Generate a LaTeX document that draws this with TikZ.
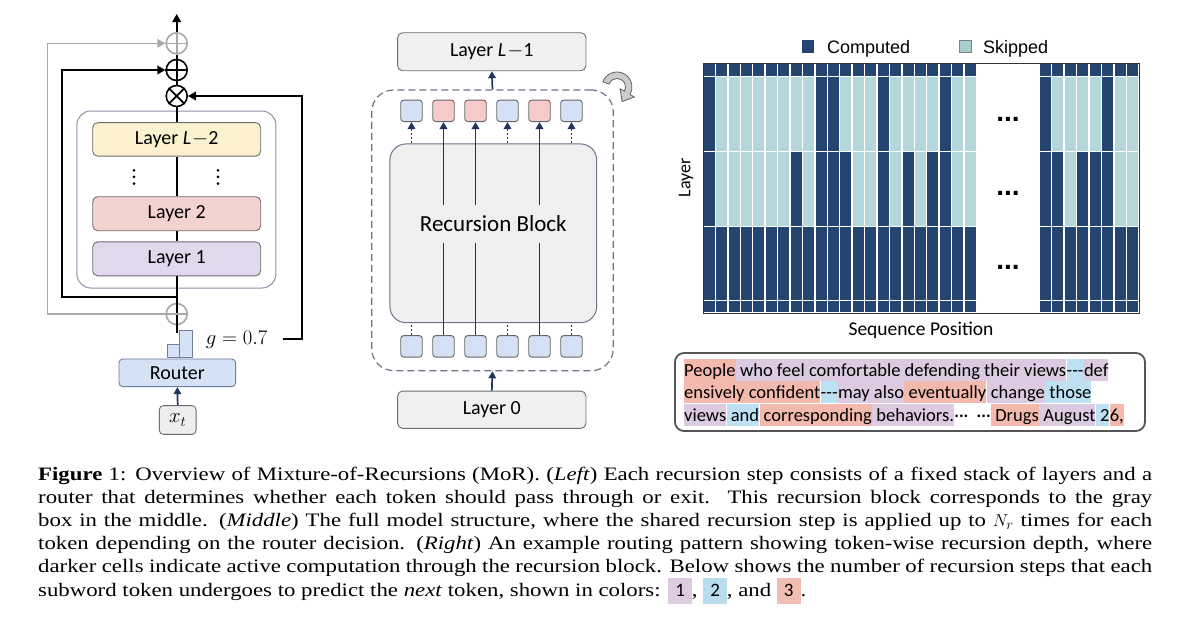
\documentclass[tikz,border=0pt]{standalone}
\usepackage{fontspec}
\setmainfont{Liberation Serif}[FakeStretch=1.2]
\newfontfamily\carl{Carlito}
\newfontfamily\arl{Liberation Sans}
\usetikzlibrary{arrows.meta,calc}
\definecolor{laygray}{HTML}{6E6E6E}
\definecolor{boxblue}{HTML}{8A93A8}
\definecolor{yel}{HTML}{FCF1CF}
\definecolor{pnk}{HTML}{F4D2CF}
\definecolor{pur}{HTML}{E2D8EC}
\definecolor{routerfill}{HTML}{D5E2F6}
\definecolor{routerborder}{HTML}{6F7E9C}
\definecolor{xgray}{HTML}{EEEEEE}
\definecolor{lgray}{HTML}{F0F0F2}
\definecolor{blkfill}{HTML}{EFEFEF}
\definecolor{blkborder}{HTML}{6B7589}
\definecolor{dashc}{HTML}{6C7487}
\definecolor{tb}{HTML}{D3E0F6}
\definecolor{tp}{HTML}{F4CBC8}
\definecolor{tokborder}{HTML}{666666}
\definecolor{navy}{HTML}{1F3560}
\definecolor{gray65}{HTML}{A8A8A8}
\definecolor{gc1}{HTML}{244570}
\definecolor{gc0}{HTML}{B3D7DB}
\definecolor{skipc}{HTML}{A9CCCF}
\definecolor{gridframe}{HTML}{333333}
\definecolor{tbc}{HTML}{555555}
\definecolor{hpk}{HTML}{F3B9AD}
\definecolor{hpu}{HTML}{DCCAE0}
\definecolor{hbl}{HTML}{BEE0F3}
\definecolor{cpu}{HTML}{DDCCE0}
\definecolor{cbl}{HTML}{B9DDEC}
\definecolor{cpk}{HTML}{F2BEB3}
\newcommand\capbox[2]{\smash{{\setlength{\fboxsep}{0pt}\colorbox{#1}{\rule[-8pt]{0pt}{26pt}\hspace{7pt}{\carl #2}\hspace{7pt}}}}}
\begin{document}
\begin{tikzpicture}[x=1pt,y=-1pt,
  lay/.style={draw=laygray, line width=0.9pt, rounded corners=5pt, inner sep=0pt, font=\carl\fontsize{20}{24}\selectfont},
  tok/.style={draw=tokborder, line width=0.9pt, rounded corners=3pt, minimum size=21.5pt, inner sep=0pt},
  blk/.style={line width=1.8pt, black},
  barr/.style={blk, -{Triangle[length=8pt,width=8.5pt]}},
  garr/.style={line width=1.4pt, gray65, -{Triangle[length=8pt,width=8.5pt]}},
  narr/.style={line width=1.7pt, navy, -{Triangle[length=7pt,width=7.5pt]}},
  ndot/.style={line width=1.5pt, navy, dash pattern=on 2pt off 2pt},
  opc/.style={circle, draw, line width=1.6pt, minimum size=21pt, inner sep=0pt},
  hl/.style={inner sep=0pt, text height=17.5pt, text depth=4.5pt, anchor=base west, font=\carl\fontsize{18.5}{22}\selectfont},
  lgtext/.style={anchor=base west, inner sep=0pt, font=\arl\fontsize{18}{20}\selectfont}
]
\useasboundingbox (0,0) rectangle (1200,630);
\fill[white] (0,0) rectangle (1200,630);

% ---------------- left panel ----------------
\node[draw=boxblue, line width=1pt, rounded corners=14pt, minimum width=199pt, minimum height=177pt] (stepbox) at (176.4,199.5) {};
\node[lay, fill=yel, minimum width=168pt, minimum height=33.5pt] (lL2) at (176.7,139.4) {Layer {\itshape L}\kern1pt$-$2};
\node[lay, fill=pnk, minimum width=168pt, minimum height=34pt] (l2) at (176.7,213.7) {Layer 2};
\node[lay, fill=pur, minimum width=168pt, minimum height=34pt] (l1) at (176.7,258.8) {Layer 1};
\foreach \xx in {134,218} \foreach \yy in {170.3,176.9,183.5} \fill (\xx,\yy) circle[radius=1.5pt];

\node[opc, draw=gray65] (gtop) at (176.7,43.3) {};
\node[opc] (plus) at (176.7,70) {};
\node[opc] (times) at (176.7,96) {};
\node[opc, draw=gray65] (gbot) at (176.7,314) {};
\coordinate (topend) at (176.7,14);
\coordinate (rin) at (176.7,333);
\coordinate (bj) at (176.7,297);

\draw[line width=1.6pt, gray65] (gtop.west) -- (gtop.east) (gtop.north) -- (gtop.south);
\draw[blk] (plus.west) -- (plus.east) (plus.north) -- (plus.south);
\draw[blk] (times.north west) -- (times.south east) (times.north east) -- (times.south west);
\draw[barr] (gtop.north) -- (topend);
\draw[blk] (plus.north) -- (gtop.south);
\draw[blk] (times.north) -- (plus.south);
\draw[blk] (lL2.north) -- (times.south);
\draw[blk] (lL2.south) -- (l2.north);
\draw[blk] (l2.south) -- (l1.north);
\draw[blk] (l1.south) -- (rin);
\draw[line width=1.6pt, gray65] (gbot.west) -- (gbot.east);

\draw[barr] (bj) -- (62.3,297) -- (62.3,70) -- (plus.west);
\draw[garr] (gbot.west) -- (47.3,314) -- (47.3,43.3) -- (gtop.west);

\node[font=\fontsize{20}{20}\selectfont, inner sep=0pt] (glab) at (236.7,340) {$g = 0.7$};
\coordinate (gs) at (283,339);
\draw[barr] (gs) -- (301.7,339) -- (301.7,96) -- (times.east);

\node[draw=routerborder, fill=routerfill, line width=0.9pt, minimum width=12pt, minimum height=13pt, inner sep=0pt, anchor=south west] (bar1) at (167.3,358) {};
\node[draw=routerborder, fill=routerfill, line width=0.9pt, minimum width=12.4pt, minimum height=27pt, inner sep=0pt, anchor=south west] (bar2) at (179.3,358) {};
\node[draw=routerborder, fill=routerfill, line width=0.9pt, rounded corners=4pt, minimum width=116.7pt, minimum height=27.7pt, inner sep=0pt, font=\carl\fontsize{20}{24}\selectfont] (router) at (177.3,372.8) {Router};
\node[draw=laygray, fill=xgray, line width=0.9pt, rounded corners=4pt, minimum width=36.7pt, minimum height=28.7pt, inner sep=0pt, font=\fontsize{20}{20}\selectfont] (xt) at (177.7,420) {$x_t$};
\draw[narr] (xt.north) -- (router.south);

% ---------------- middle panel ----------------
\node[lay, fill=lgray, minimum width=188.3pt, minimum height=38pt] (lL1) at (491.8,51.7) {Layer {\itshape L}\kern1pt$-$1};
\node[draw=dashc, dash pattern=on 7pt off 4pt, line width=1.2pt, rounded corners=22pt, minimum width=241.6pt, minimum height=280.7pt] (dbox) at (492.5,230.3) {};
\node[draw=blkborder, fill=blkfill, line width=1pt, rounded corners=16pt, minimum width=206.7pt, minimum height=178.7pt] (rblock) at (493.3,233.3) {};
\foreach \c/\x [count=\i] in {tb/411.5, tp/443.5, tp/475.5, tb/507.5, tp/539.5, tb/571.5} {
  \node[tok, fill=\c] (t\i) at (\x,110.8) {};
  \node[tok, fill=tb] (b\i) at (\x,346.3) {};
}
\foreach \i in {2,3,5} \draw[narr] (b\i.north) -- (t\i.south);
\node[fill=blkfill, inner xsep=1pt, inner ysep=0pt, minimum height=38pt, font=\carl\fontsize{23}{27}\selectfont] (rbtext) at (493.3,224) {Recursion Block};
\foreach \i in {1,4,6} {
  \draw[ndot, -{Triangle[length=7pt,width=7.5pt]}] (rblock.north -| t\i) -- (t\i.south);
  \draw[ndot] (b\i.north) -- (rblock.south -| b\i);
}
\draw[narr] (dbox.north) -- (lL1.south);
\node[lay, fill=lgray, minimum width=188.3pt, minimum height=37.3pt] (l0) at (491.8,409.7) {Layer 0};
\draw[narr] (l0.north) -- (dbox.south);

\coordinate (cc) at (617,87);
\filldraw[fill=gray!40, draw=gray!75!black, line width=0.8pt]
  ($(cc)+(-160:15)$) arc[start angle=-160, end angle=30, radius=15]
  -- ($(cc)+(30:20)$) -- ($(cc)+(30:11.75)+(120:10)$) -- ($(cc)+(30:3.5)$)
  -- ($(cc)+(30:8.5)$) arc[start angle=30, end angle=-160, radius=8.5] -- cycle;

% ---------------- right panel ----------------
\foreach \i in {1,...,22} {
  \fill[gc1] ({703+12.43*(\i-1)+0.7},63.7) rectangle ({703+12.43*\i-0.7},75.8);
  \fill[gc1] ({703+12.43*(\i-1)+0.7},227.2) rectangle ({703+12.43*\i-0.7},299.8);
  \fill[gc1] ({703+12.43*(\i-1)+0.7},301.2) rectangle ({703+12.43*\i-0.7},312.3);
}
\foreach \i in {1,...,8} {
  \fill[gc1] ({1039+12.5*(\i-1)+0.7},63.7) rectangle ({1039+12.5*\i-0.7},75.8);
  \fill[gc1] ({1039+12.5*(\i-1)+0.7},227.2) rectangle ({1039+12.5*\i-0.7},299.8);
  \fill[gc1] ({1039+12.5*(\i-1)+0.7},301.2) rectangle ({1039+12.5*\i-0.7},312.3);
}
\foreach \v [count=\i] in {1,0,0,0,0,0,0,0,0,1,1,0,0,0,1,0,0,0,0,1,0,0}
  \fill[gc\v] ({703+12.43*(\i-1)+0.7},77.2) rectangle ({703+12.43*\i-0.7},150.8);
\foreach \v [count=\i] in {1,0,0,0,0,0,0,1,0,1,1,1,0,0,1,0,1,0,1,1,0,0}
  \fill[gc\v] ({703+12.43*(\i-1)+0.7},152.2) rectangle ({703+12.43*\i-0.7},225.8);
\foreach \v [count=\i] in {1,0,0,0,0,1,0,0}
  \fill[gc\v] ({1039+12.5*(\i-1)+0.7},77.2) rectangle ({1039+12.5*\i-0.7},150.8);
\foreach \v [count=\i] in {1,1,0,1,1,1,0,0}
  \fill[gc\v] ({1039+12.5*(\i-1)+0.7},152.2) rectangle ({1039+12.5*\i-0.7},225.8);
\draw[gridframe, line width=1pt] (703,63) rectangle (1139,313);
\foreach \yy [count=\k] in {119,193,267}
  \node[inner sep=0pt, anchor=base, font=\arl\bfseries\fontsize{28}{28}\selectfont] (dots\k) at (1008,\yy+2.5) {...};

\node[fill=gc1, minimum size=12.5pt, inner sep=0pt] (lgc) at (808,46.3) {};
\node[lgtext] (lgct) at (827,53) {Computed};
\node[draw=gray, line width=0.6pt, fill=skipc, minimum size=12pt, inner sep=0pt] (lgs) at (964.8,46.3) {};
\node[lgtext] (lgst) at (983,53) {Skipped};
\node[rotate=90, inner sep=0pt, font=\carl\fontsize{18}{20}\selectfont] (ylab) at (686,178) {Layer};
\node[inner sep=0pt, font=\carl\fontsize{19.5}{22}\selectfont] (xlab) at (921,330) {Sequence Position};

% text box
\node[draw=tbc, line width=1.8pt, rounded corners=9pt, minimum width=470pt, minimum height=78pt] (tbox) at (910,392) {};
\node[hl, fill=hpk] (a1) at (684,376) {People};
\node[hl, fill=hpu] (a2) at (a1.base east) {\ who feel comfortable defending their views};
\node[hl, fill=hbl] (a3) at (a2.base east) {-{}-{}-};
\node[hl, fill=hpu] (a4) at (a3.base east) {def};
\node[hl, fill=hpk] (b1) at (684,398.5) {ensively confident};
\node[hl, fill=hbl] (b2) at (b1.base east) {-{}-{}-};
\node[hl, fill=hpu] (b3) at (b2.base east) {may also};
\node[hl, fill=hpk] (b4) at (b3.base east) {\ eventually};
\node[hl, fill=hpu] (b5) at (b4.base east) {\ change};
\node[hl, fill=hbl] (b6) at (b5.base east) {\ those};
\node[hl, fill=hpu] (c1) at (684,421) {views};
\node[hl, fill=hbl] (c2) at (c1.base east) {\ and};
\node[hl, fill=hpk] (c3) at (c2.base east) {\ corresponding};
\node[hl, fill=hpu] (c4) at (c3.base east) {\ behaviors.};
\node[hl] (c5) at (c4.base east) {···\ \ ···};
\node[hl, fill=hpk] (c6) at (c5.base east) {\ Drugs};
\node[hl, fill=hpu] (c7) at (c6.base east) {\ August};
\node[hl, fill=hbl] (c8) at (c7.base east) {\ 2};
\node[hl, fill=hpk] (c9) at (c8.base east) {6,};

% caption
\node[anchor=base west, inner sep=0pt] (cap) at (38,480) {\parbox[t]{1114pt}{\fontsize{19}{23.2}\selectfont
\textbf{Figure} 1: Overview of Mixture-of-Recursions (MoR). (\textit{Left}) Each recursion step consists of a fixed stack of layers and a\linebreak
router that determines whether each token should pass through or exit.\ \ This recursion block corresponds to the gray\linebreak
box in the middle. (\textit{Middle}) The full model structure, where the shared recursion step is applied up to $N_r$ times for each\linebreak
token depending on the router decision. (\textit{Right}) An example routing pattern showing token-wise recursion depth, where\linebreak
darker cells indicate active computation through the recursion block. Below shows the number of recursion steps that each\linebreak
subword token undergoes to predict the \textit{next} token, shown in colors: \capbox{cpu}{1}, \capbox{cbl}{2}, and \capbox{cpk}{3}.\par}};
\end{tikzpicture}
\end{document}
